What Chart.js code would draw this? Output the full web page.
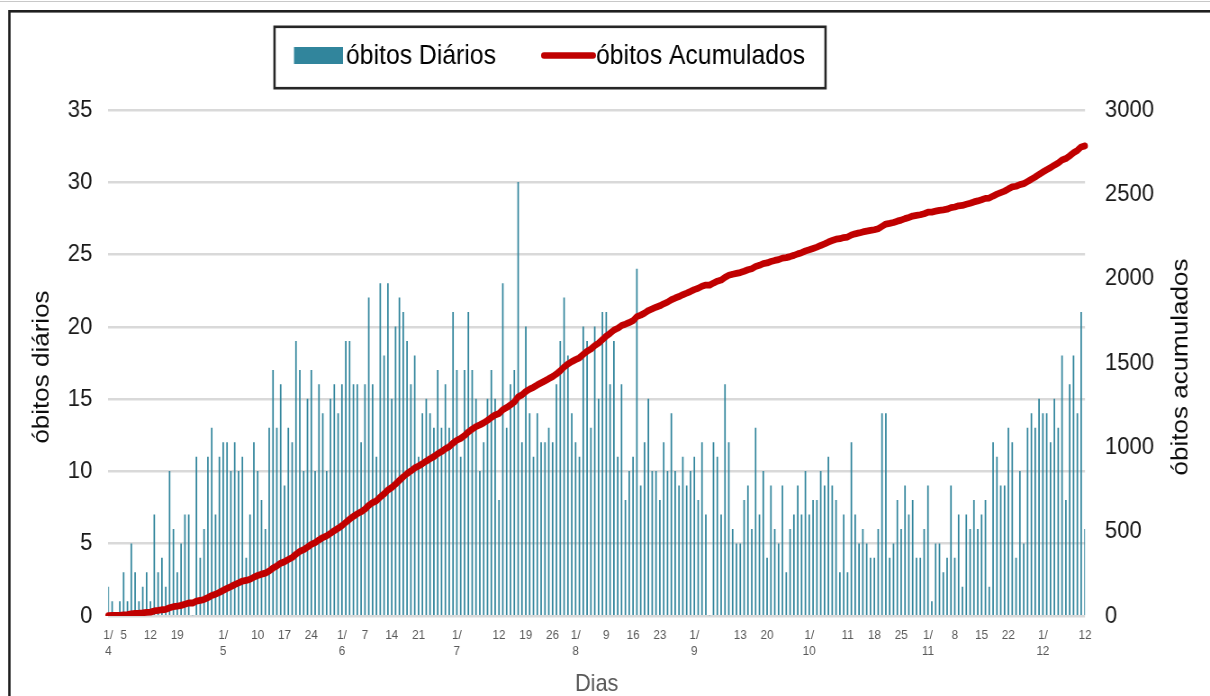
<!DOCTYPE html>
<html lang="pt">
<head>
<meta charset="utf-8">
<title>Óbitos diários e acumulados</title>
<script src="https://cdn.jsdelivr.net/npm/chart.js@4.4.1/dist/chart.umd.min.js"></script>
<style>
  html, body { margin: 0; padding: 0; background: #ffffff; overflow: hidden; }
  canvas { display: block; }
</style>
</head>
<body>
<!-- the canvas is drawn wider than it is shown, giving the condensed look of the original figure -->
<canvas id="grafico" width="1344" height="696" style="width:1210px;height:696px"></canvas>
<script>
// Months covered (April to December) and daily deaths per month
const meses = ['4', '5', '6', '7', '8', '9', '10', '11', '12'];

const obitosAbril = [2, 1, 0, 1, 3, 1, 5, 3, 1, 2, 3, 1, 7, 3, 4, 2, 10, 6, 3, 5, 7, 7, 0, 11, 4, 6, 11, 13, 7, 11];
const obitosMaio = [12, 12, 10, 12, 10, 11, 4, 7, 12, 10, 8, 6, 13, 17, 13, 16, 9, 13, 12, 19, 17, 10, 15, 17, 10, 16, 14, 10, 15, 16, 14];
const obitosJunho = [16, 19, 19, 16, 16, 12, 16, 22, 16, 11, 23, 18, 23, 15, 20, 22, 21, 19, 16, 18, 11, 14, 15, 14, 13, 17, 13, 16, 13, 21];
const obitosJulho = [17, 11, 17, 21, 17, 15, 10, 12, 15, 17, 15, 8, 23, 13, 16, 17, 30, 12, 20, 14, 11, 14, 12, 12, 13, 12, 16, 19, 22, 18, 14];
const obitosAgosto = [12, 11, 20, 19, 13, 20, 15, 21, 21, 16, 19, 11, 16, 8, 10, 11, 24, 9, 12, 15, 10, 10, 8, 12, 10, 14, 10, 9, 11, 9, 10];
const obitosSetembro = [11, 8, 12, 7, 0, 12, 11, 7, 16, 12, 6, 5, 5, 8, 9, 6, 13, 7, 10, 4, 9, 6, 5, 9, 3, 6, 7, 9, 7, 10];
const obitosOutubro = [7, 8, 8, 10, 9, 11, 9, 8, 3, 7, 3, 12, 7, 5, 6, 5, 4, 4, 6, 14, 14, 4, 5, 8, 6, 9, 7, 8, 4, 4, 6];
const obitosNovembro = [9, 1, 5, 5, 3, 4, 9, 4, 7, 2, 7, 6, 8, 6, 7, 8, 2, 12, 11, 9, 9, 13, 12, 4, 10, 5, 13, 14, 13, 15];
const obitosDezembro = [14, 14, 12, 15, 13, 18, 8, 16, 18, 14, 21, 6];

const obitosPorMes = [obitosAbril, obitosMaio, obitosJunho, obitosJulho, obitosAgosto,
                      obitosSetembro, obitosOutubro, obitosNovembro, obitosDezembro];

// Days that carry a label on the horizontal axis
const rotulosEixoX = ['1/4', '5/4', '12/4', '19/4', '1/5', '10/5', '17/5', '24/5', '1/6', '7/6', '14/6', '21/6',
                      '1/7', '12/7', '19/7', '26/7', '1/8', '9/8', '16/8', '23/8', '1/9', '13/9', '20/9',
                      '1/10', '11/10', '18/10', '25/10', '1/11', '8/11', '15/11', '22/11', '1/12', '12/12'];

const ticksEsquerda = { min: 0, max: 35, passo: 5 };
const ticksDireita = { min: 0, max: 3000, passo: 500 };

// One category per day, "dia/mês"
const dias = [];
obitosPorMes.forEach((lista, m) => lista.forEach((_, i) => dias.push(`${i + 1}/${meses[m]}`)));

const obitosDiarios = obitosPorMes.flat();
let soma = 0;
const obitosAcumulados = obitosDiarios.map(v => (soma += v));

// Screen pixels -> canvas pixels (canvas is shown at 90% of its width)
const ESCALA_X = 1210 / 1344;
const px = x => x / ESCALA_X;

const FONTE = "'Liberation Sans', Arial, Helvetica, sans-serif";
Chart.defaults.font.family = FONTE;

const marcados = new Set(rotulosEixoX);

const COR_BARRA = '#31859C';
const COR_LINHA = '#C00000';

// White background and the outer frame
const moldura = {
  id: 'moldura',
  beforeDraw(chart) {
    const { ctx, width, height } = chart;
    ctx.save();
    ctx.fillStyle = '#ffffff';
    ctx.fillRect(0, 0, width, height);
    ctx.strokeStyle = '#c8c8c8';
    ctx.lineWidth = 1;
    ctx.beginPath();
    ctx.moveTo(0, 1.5);
    ctx.lineTo(width, 1.5);
    ctx.stroke();
    ctx.strokeStyle = '#1f1f1f';
    ctx.lineWidth = 2.6;
    ctx.strokeRect(px(9.4), 11.3, width + 20, height + 20);
    ctx.restore();
  }
};

// Legend in a framed box and the two vertical axis titles
const legendaETitulos = {
  id: 'legendaETitulos',
  afterDraw(chart) {
    const { ctx } = chart;
    const [barras, linha] = chart.data.datasets;
    ctx.save();

    ctx.strokeStyle = '#262626';
    ctx.lineWidth = 2.6;
    ctx.strokeRect(px(274.5), 26.8, px(825.5) - px(274.5), 61.4);

    ctx.fillStyle = barras.backgroundColor;
    ctx.fillRect(px(294), 47, px(343) - px(294), 17);

    ctx.strokeStyle = linha.borderColor;
    ctx.lineWidth = 6.5;
    ctx.lineCap = 'round';
    ctx.beginPath();
    ctx.moveTo(px(544), 55.5);
    ctx.lineTo(px(593), 55.5);
    ctx.stroke();

    ctx.fillStyle = '#000000';
    ctx.font = `27.5px ${FONTE}`;
    ctx.textBaseline = 'middle';
    ctx.textAlign = 'left';
    ctx.fillText(barras.label, px(346), 56);
    ctx.fillText(linha.label, px(596), 56);

    ctx.font = `26px ${FONTE}`;
    ctx.fillStyle = '#0d0d0d';
    ctx.textAlign = 'center';
    const titulos = [['óbitos diários', px(42)], ['óbitos acumulados', px(1181)]];
    titulos.forEach(([texto, x]) => {
      ctx.save();
      ctx.translate(x, 367);
      ctx.rotate(-Math.PI / 2);
      ctx.fillText(texto, 0, 0);
      ctx.restore();
    });
    ctx.restore();
  }
};

new Chart(document.getElementById('grafico'), {
  data: {
    labels: dias,
    datasets: [
      {
        type: 'bar',
        label: 'óbitos Diários',
        data: obitosDiarios,
        yAxisID: 'y',
        backgroundColor: COR_BARRA,
        barThickness: 1.05,
        order: 2
      },
      {
        type: 'line',
        label: 'óbitos Acumulados',
        data: obitosAcumulados,
        yAxisID: 'y1',
        borderColor: COR_LINHA,
        backgroundColor: COR_LINHA,
        borderWidth: 6.8,
        borderCapStyle: 'round',
        borderJoinStyle: 'round',
        pointRadius: 0,
        tension: 0,
        order: 1
      }
    ]
  },
  options: {
    responsive: false,
    animation: false,
    devicePixelRatio: 1,
    layout: { padding: { top: 110, left: 0, right: 0, bottom: 0 } },
    plugins: {
      legend: { display: false },
      tooltip: { enabled: false }
    },
    scales: {
      x: {
        type: 'category',
        offset: false,
        grid: { display: false, offset: false, drawTicks: false },
        border: { display: false },
        ticks: {
          autoSkip: false,
          maxRotation: 0,
          minRotation: 0,
          padding: 11,
          color: '#595959',
          font: { size: 13, lineHeight: 1.25 },
          callback(valor, indice) {
            const d = dias[indice];
            if (!marcados.has(d)) return '';
            const [dia, mes] = d.split('/');
            return dia === '1' ? ['1/', mes] : dia;
          }
        },
        title: {
          display: true,
          text: 'Dias',
          color: '#595959',
          font: { size: 24, lineHeight: 1 },
          padding: 0
        },
        afterFit(escala) { escala.height = 80; }
      },
      y: {
        position: 'left',
        min: ticksEsquerda.min,
        max: ticksEsquerda.max,
        ticks: {
          stepSize: ticksEsquerda.passo,
          padding: px(16),
          color: '#1a1a1a',
          font: { size: 24.5 },
          callback: v => String(v)
        },
        grid: { color: '#d9d9d9', lineWidth: 2.5, drawTicks: false },
        border: { display: false },
        afterFit(escala) { escala.width = px(108.3); }
      },
      y1: {
        position: 'right',
        min: ticksDireita.min,
        max: ticksDireita.max,
        ticks: {
          stepSize: ticksDireita.passo,
          padding: px(20),
          color: '#1a1a1a',
          font: { size: 24.5 },
          callback: v => String(v)
        },
        grid: { display: false, drawTicks: false },
        border: { display: false },
        afterFit(escala) { escala.width = 1344 - px(1085); }
      }
    }
  },
  plugins: [moldura, legendaETitulos]
});
</script>
</body>
</html>
